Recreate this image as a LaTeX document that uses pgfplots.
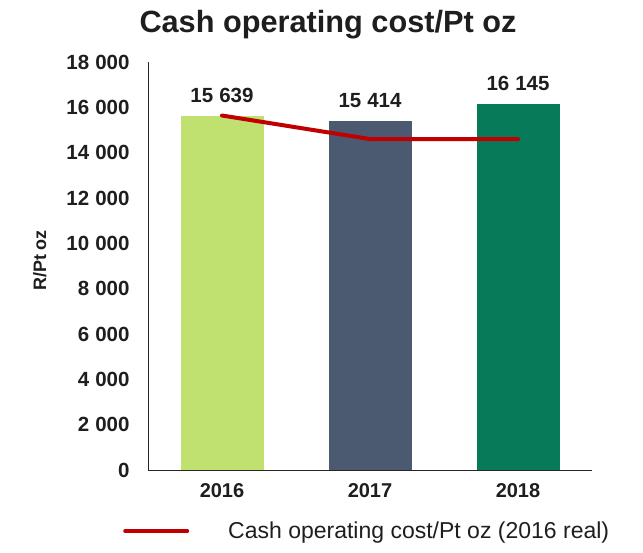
\documentclass[border=0pt]{standalone}
\usepackage{fontspec}
\setmainfont{Liberation Sans}
\usepackage{pgfplots}
\pgfplotsset{compat=1.18}
\definecolor{lgreen}{HTML}{C0E070}
\definecolor{slate}{HTML}{4B5A71}
\definecolor{dgreen}{HTML}{077A5A}
\definecolor{cred}{HTML}{C00000}
\definecolor{txt}{HTML}{1E1E1E}
\begin{document}
\begin{tikzpicture}
\path[use as bounding box] (0,0) rectangle (643bp,553bp);
\begin{axis}[
  at={(148bp,83bp)}, anchor=south west,
  scale only axis, width=444bp, height=408bp,
  xmin=-0.5, xmax=2.5, ymin=0, ymax=18000,
  axis x line=bottom, axis y line=left,
  axis line style={-, draw=black!85, line width=1bp},
  xtick={0,1,2}, xticklabels={2016,2017,2018},
  ytick={0,2000,...,18000},
  major tick length=0pt,
  scaled y ticks=false,
  /pgf/number format/assume math mode=true,
  /pgf/number format/1000 sep={\kern6bp},
  yticklabel style={font=\fontsize{20.5bp}{22bp}\selectfont\bfseries, text=txt, xshift=-15bp},
  xticklabel style={font=\fontsize{20bp}{22bp}\selectfont\bfseries, text=txt, yshift=-10bp},
  nodes near coords style={font=\fontsize{20.5bp}{22bp}\selectfont\bfseries, text=txt, anchor=south, yshift=9.5bp},
  legend style={at={(-0.0563,-0.1495)}, anchor=west, draw=none, fill=none, inner sep=0pt,
    nodes={inner sep=0pt, text=txt}, column sep=39bp,
    font=\fontsize{23bp}{26bp}\selectfont},
  legend image code/.code={\draw[#1] (0bp,0bp) -- (62bp,0bp);},
  clip=false,
]
\addplot[ybar, bar shift=0pt, bar width=83bp, fill=lgreen, draw=none, nodes near coords, forget plot] coordinates {(0,15639)};
\addplot[ybar, bar shift=0pt, bar width=83bp, fill=slate, draw=none, nodes near coords, forget plot] coordinates {(1,15414)};
\addplot[ybar, bar shift=0pt, bar width=83bp, fill=dgreen, draw=none, nodes near coords, forget plot] coordinates {(2,16145)};
\addplot[sharp plot, draw=cred, line width=4bp, line cap=round, mark=none] coordinates {(0,15639) (1,14600) (2,14600)};
\addlegendentry{Cash operating cost/Pt oz (2016 real)}
\end{axis}
\node[font=\fontsize{30.7bp}{34bp}\selectfont\bfseries, text=txt, anchor=base] at (328bp,520bp) {Cash operating cost/Pt oz};
\node[font=\fontsize{18bp}{22bp}\selectfont\bfseries, text=txt, anchor=base, rotate=90, inner sep=0pt] at (46bp,292.5bp) {R/Pt oz};
\end{tikzpicture}
\end{document}
